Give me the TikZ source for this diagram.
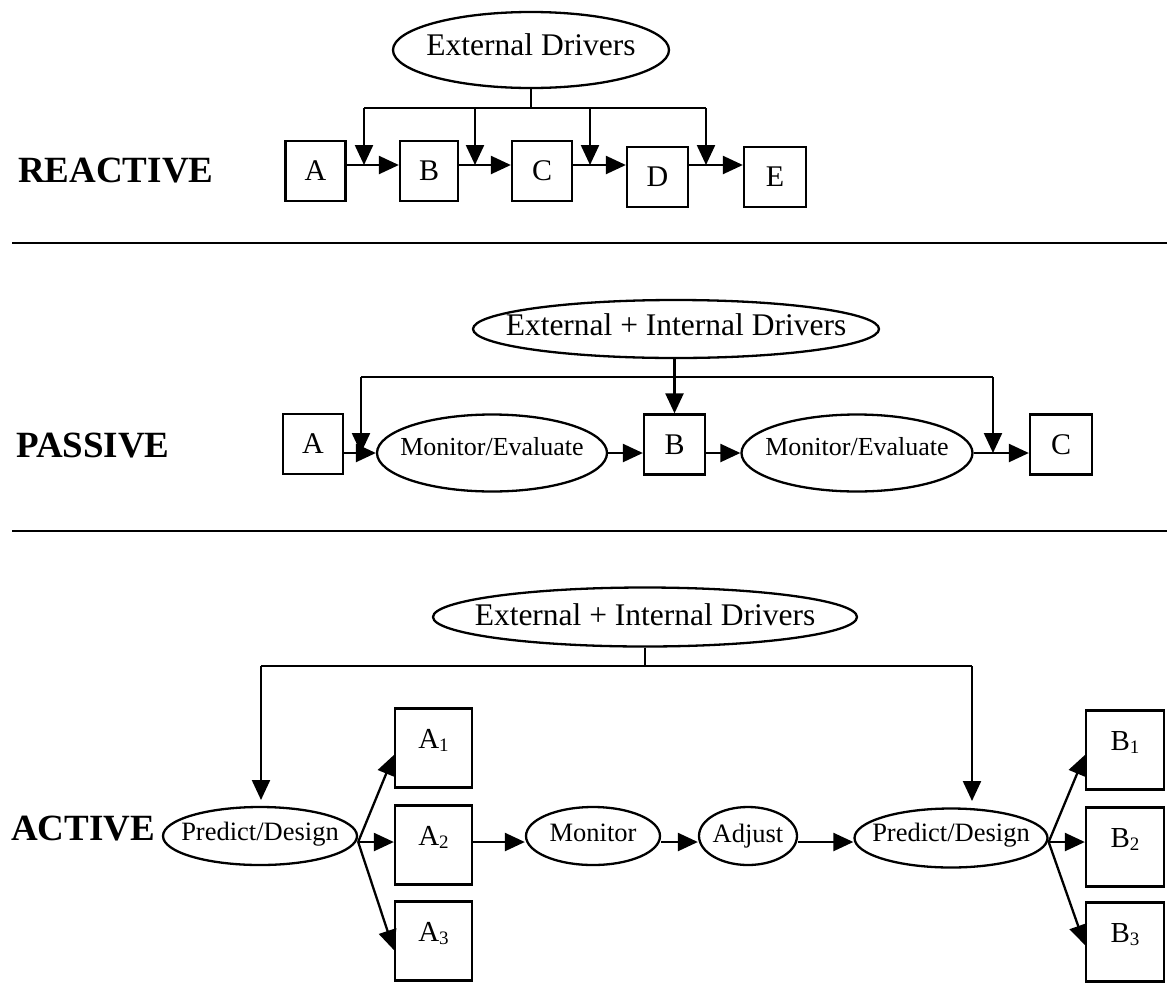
\documentclass[tikz,border=0pt]{standalone}
\usepackage{fontspec}
\setmainfont{Liberation Serif}
\usetikzlibrary{arrows.meta,shapes.geometric}
\newcommand\zt[2]{\makebox[0pt]{\raisebox{-#1pt}[0pt][0pt]{#2}}}
\newcommand\zb[1]{\raisebox{0pt}[0pt][0pt]{#1}}
\newcommand\sbs[1]{\raisebox{-3pt}{\fontsize{19}{19}\selectfont #1}}
\begin{document}
\begin{tikzpicture}[x=1pt,y=-1pt,line width=2.3pt,
  arr/.style={-{Triangle[length=20pt,width=18pt]}},
  box/.style={draw,rectangle,inner sep=0pt,minimum width=60,minimum height=60,font=\fontsize{30}{32}\selectfont},
  bigbox/.style={draw,rectangle,inner sep=0pt,minimum width=78,minimum height=79,font=\fontsize{29}{30}\selectfont},
  oval/.style={draw,ellipse,inner sep=0pt,font=\fontsize{26.5}{28}\selectfont},
  drv/.style={draw,ellipse,inner sep=0pt,font=\fontsize{31.5}{34}\selectfont},
  lab/.style={anchor=base west,inner sep=0pt,font=\fontsize{37}{40}\selectfont\bfseries},
  sep/.style={line width=2.5pt}]
\useasboundingbox (0,0) rectangle (1167,983);
% separators
\draw[sep] (12,243) -- (1167,243);
\draw[sep] (12,531) -- (1167,531);

% ---------------- REACTIVE ----------------
\node[lab] (lreact) at (17,182) {REACTIVE};
\node[drv,minimum width=276,minimum height=76] (ed) at (531,50) {\zt{5}{External Drivers}};
\node[box] (ra) at (315.5,171) {A};
\node[box,minimum width=58] (rb) at (429,171) {B};
\node[box] (rc) at (542,171) {C};
\node[box,minimum width=61] (rd) at (657.5,177) {D};
\node[box,minimum width=62] (re) at (775,177) {E};
\coordinate (rbus) at (0,108);
\coordinate (j1) at (364,165);
\coordinate (j2) at (475,165);
\coordinate (j3) at (590,165);
\coordinate (j4) at (706,165);
\draw (ed.south) -- (ed.south |- rbus);
\draw (j1 |- rbus) -- (j4 |- rbus);
\foreach \j in {j1,j2,j3,j4} {\draw[arr] (\j |- rbus) -- (\j);}
\draw[arr] (ra.east |- j1) -- (rb.west |- j1);
\draw[arr] (rb.east |- j1) -- (rc.west |- j1);
\draw[arr] (rc.east |- j1) -- (rd.west |- j1);
\draw[arr] (rd.east |- j1) -- (re.west |- j1);

% ---------------- PASSIVE ----------------
\node[lab] (lpass) at (15,457) {PASSIVE};
\node[drv,minimum width=406,minimum height=58] (eip) at (676,329) {\zt{6}{External + Internal Drivers}};
\node[box] (pa) at (313,444) {A};
\node[oval,minimum width=230,minimum height=77,font=\fontsize{26}{28}\selectfont] (me1) at (492,453) {\zt{2}{Monitor/Evaluate}};
\node[box,minimum width=61] (pb) at (674.5,444.5) {B};
\node[oval,minimum width=231,minimum height=77,font=\fontsize{26}{28}\selectfont] (me2) at (857,453) {\zt{2}{Monitor/Evaluate}};
\node[box,minimum width=62] (pc) at (1061,444.5) {C};
\coordinate (pbus) at (0,377);
\coordinate (j5) at (361,453);
\coordinate (j6) at (993,453);
\draw (j5 |- pbus) -- (j6 |- pbus);
\draw[arr] (j5 |- pbus) -- (j5);
\draw[arr] (j6 |- pbus) -- (j6);
\draw[arr] (eip.south -| pb.north) -- (pb.north);
\draw[arr] (pa.east |- me1.west) -- (me1.west);
\draw[arr] (me1.east) -- (pb.west |- me1.east);
\draw[arr] (pb.east |- me2.west) -- (me2.west);
\draw[arr] (me2.east) -- (pc.west |- me2.east);

% ---------------- ACTIVE ----------------
\node[lab] (lact) at (10,840) {ACTIVE};
\node[drv,minimum width=424,minimum height=59] (eia) at (645,617) {\zt{8}{External + Internal Drivers}};
\node[oval,minimum width=194,minimum height=58] (pd1) at (260,836) {\zt{4}{Predict/Design}};
\node[bigbox,minimum width=77] (a1) at (433.5,748) {\zb{A\sbs{1}}};
\node[bigbox,minimum width=77] (a2) at (433.5,845) {\zb{A\sbs{2}}};
\node[bigbox,minimum width=77] (a3) at (433.5,941) {\zb{A\sbs{3}}};
\node[oval,minimum width=134,minimum height=58] (mon) at (593,836) {\zt{5}{Monitor}};
\node[oval,minimum width=98,minimum height=58] (adj) at (748,836) {\zt{6}{Adjust}};
\node[oval,minimum width=193,minimum height=59] (pd2) at (951,838) {\zt{3}{Predict/Design}};
\node[bigbox] (b1) at (1125,750) {\zb{B\sbs{1}}};
\node[bigbox] (b2) at (1125,847) {\zb{B\sbs{2}}};
\node[bigbox] (b3) at (1125,942) {\zb{B\sbs{3}}};
\coordinate (abus) at (0,666);
\coordinate (arow) at (0,842);
\coordinate (k1) at (261,800);
\coordinate (k2) at (972,801);
\draw (eia.south) -- (eia.south |- abus);
\draw (k1 |- abus) -- (k2 |- abus);
\draw[arr] (k1 |- abus) -- (k1);
\draw[arr] (k2 |- abus) -- (k2);
\draw[arr] (pd1.east |- arow) -- (a1.west |- 0,755);
\draw[arr] (pd1.east |- arow) -- (a2.west |- arow);
\draw[arr] (pd1.east |- arow) -- (a3.west |- 0,950);
\draw[arr] (a2.east |- arow) -- (mon.west |- arow);
\draw[arr] (mon.east |- arow) -- (adj.west |- arow);
\draw[arr] (adj.east |- arow) -- (pd2.west |- arow);
\draw[arr] (pd2.east |- arow) -- (b1.west |- 0,755);
\draw[arr] (pd2.east |- arow) -- (b2.west |- arow);
\draw[arr] (pd2.east |- arow) -- (b3.west |- 0,945);
\end{tikzpicture}
\end{document}
